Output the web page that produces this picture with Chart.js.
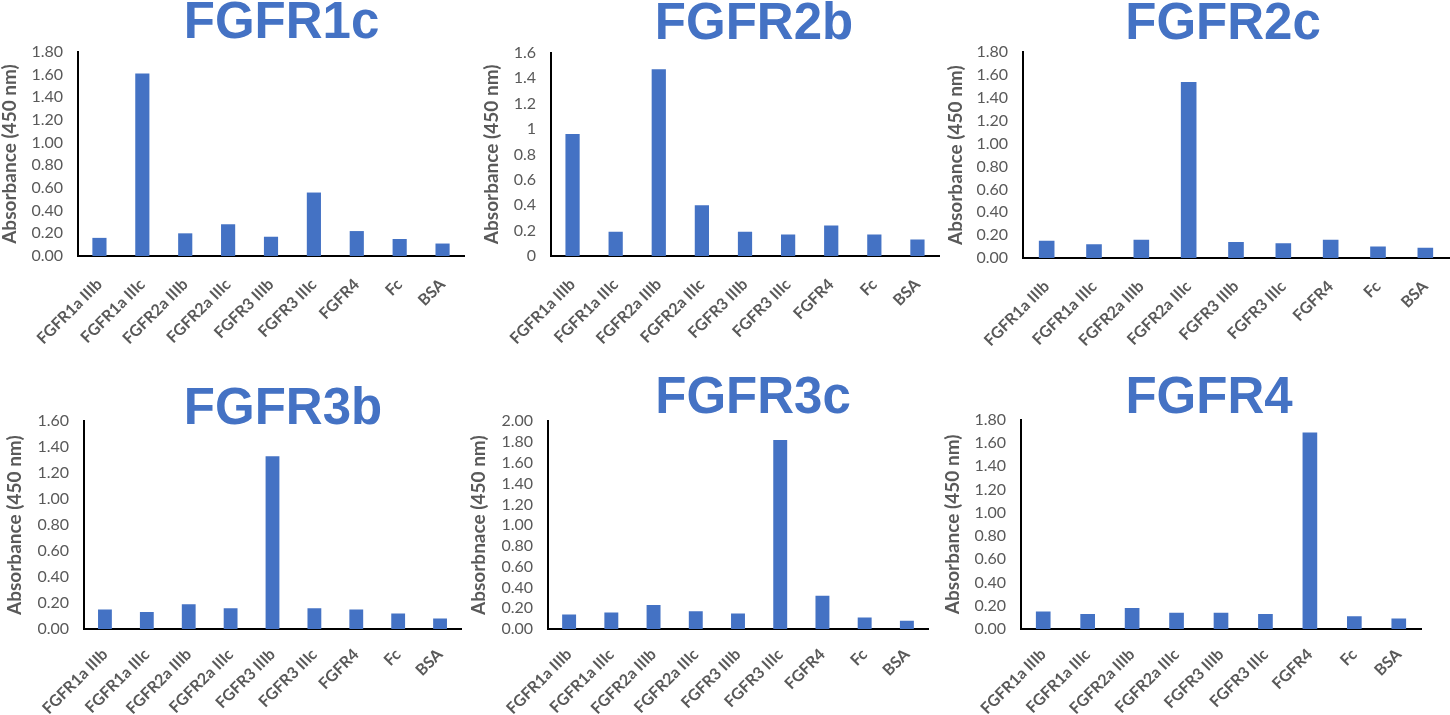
<!DOCTYPE html>
<html>
<head>
<meta charset="utf-8">
<script src="https://cdn.jsdelivr.net/npm/chart.js@4.4.1/dist/chart.umd.min.js"></script>
<style>
html, body { margin: 0; padding: 0; background: #fff; }
body { position: relative; width: 1450px; height: 715px; overflow: hidden; }
canvas { position: absolute; }
</style>
</head>
<body>
<script>
// categorias del eje x (iguales en los 6 paneles)
var categorias = ['FGFR1a IIIb', 'FGFR1a IIIc', 'FGFR2a IIIb', 'FGFR2a IIIc', 'FGFR3 IIIb', 'FGFR3 IIIc', 'FGFR4', 'Fc', 'BSA'];

var fgfr1c = [0.16, 1.61, 0.20, 0.28, 0.17, 0.56, 0.22, 0.15, 0.11];
var fgfr2b = [0.96, 0.19, 1.47, 0.40, 0.19, 0.17, 0.24, 0.17, 0.13];
var fgfr2c = [0.15, 0.12, 0.16, 1.54, 0.14, 0.13, 0.16, 0.10, 0.09];
var fgfr3b = [0.15, 0.13, 0.19, 0.16, 1.33, 0.16, 0.15, 0.12, 0.08];
var fgfr3c = [0.14, 0.16, 0.23, 0.17, 0.15, 1.82, 0.32, 0.11, 0.08];
var fgfr4 = [0.15, 0.13, 0.18, 0.14, 0.14, 0.13, 1.69, 0.11, 0.09];

var titulos = ['FGFR1c', 'FGFR2b', 'FGFR2c', 'FGFR3b', 'FGFR3c', 'FGFR4'];
var ejesY = ['Absorbance (450 nm)', 'Absorbance (450 nm)', 'Absorbance (450 nm)', 'Absorbance (450 nm)', 'Absorbnace (450 nm)', 'Absorbance (450 nm)'];
var maximos = [1.8, 1.6, 1.8, 1.6, 2.0, 1.8];
var decimales = [2, -1, 2, 2, 2, 2];   // -1 = formato general (0, 0.2, 1 ...)
var series = [fgfr1c, fgfr2b, fgfr2c, fgfr3b, fgfr3c, fgfr4];

// donde cae cada panel en la pagina
var cajas = [
    {left: -1,  titleX: 281.5, titleY: 20,    plotLeft: 78,   plotRight: 464,  plotTop: 52,    plotBottom: 256, sepX: 19},
    {left: 481, titleX: 754,   titleY: 20.5,  plotLeft: 551,  plotRight: 939,  plotTop: 52.7,  plotBottom: 256, sepX: 19},
    {left: 945, titleX: 1223,  titleY: 20.5,  plotLeft: 1023, plotRight: 1449, plotTop: 52.3,  plotBottom: 258, sepX: 19},
    {left: 4,   titleX: 283,   titleY: 405.8, plotLeft: 84,   plotRight: 461,  plotTop: 421.3, plotBottom: 629, sepX: 16},
    {left: 468, titleX: 753,   titleY: 395,   plotLeft: 548,  plotRight: 928,  plotTop: 421.3, plotBottom: 629, sepX: 16},
    {left: 942, titleX: 1209,  titleY: 395,   plotLeft: 1021, plotRight: 1421, plotTop: 419.7, plotBottom: 629, sepX: 16}
];

var azul = '#4472C4';
var gris = '#595959';

function graficar(i) {
    var c = cajas[i];
    var W = Math.round(2 * (c.titleX - c.left));
    var top = Math.floor(c.titleY - 30);
    var H = Math.round(c.plotBottom + 100 - top);
    var cv = document.createElement('canvas');
    cv.width = W;
    cv.height = H;
    cv.style.left = c.left + 'px';
    cv.style.top = top + 'px';
    document.body.appendChild(cv);

    // el texto del titulo sale ~4px alto con baseline middle
    var padTop = c.titleY + 4 - top - 25.5;
    var padBottom = c.plotTop - top - 51 - padTop;
    var margenDer = c.left + W - c.plotRight;
    var dec = decimales[i];

    new Chart(cv.getContext('2d'), {
        type: 'bar',
        data: {
            labels: categorias,
            datasets: [{
                data: series[i],
                backgroundColor: azul,
                barPercentage: 0.33,
                categoryPercentage: 1
            }]
        },
        options: {
            responsive: false,
            animation: false,
            devicePixelRatio: 1,
            layout: {padding: 0},
            plugins: {
                legend: {display: false},
                tooltip: {enabled: false},
                title: {
                    display: true,
                    text: titulos[i],
                    color: azul,
                    font: {family: '"Liberation Sans", Arial, sans-serif', size: 51, weight: 'bold', lineHeight: 1},
                    padding: {top: padTop, bottom: padBottom}
                }
            },
            scales: {
                x: {
                    grid: {display: false, drawTicks: false},
                    border: {display: true, color: '#000', width: 2},
                    ticks: {
                        color: gris,
                        font: {family: 'Lato', size: 16, weight: 'bold'},
                        minRotation: 45,
                        maxRotation: 45,
                        autoSkip: false,
                        padding: c.sepX
                    },
                    afterFit: function (s) { s.height = H - (c.plotBottom - top); }
                },
                y: {
                    min: 0,
                    max: maximos[i],
                    grid: {display: false, drawTicks: false},
                    border: {display: true, color: '#000', width: 2},
                    ticks: {
                        stepSize: 0.2,
                        autoSkip: false,
                        color: gris,
                        font: {family: 'Lato', size: 16},
                        padding: 15,
                        callback: function (v) {
                            return dec < 0 ? String(Math.round(v * 10) / 10) : v.toFixed(dec);
                        }
                    },
                    title: {
                        display: true,
                        text: ejesY[i],
                        color: gris,
                        font: {family: 'Lato', size: 19, weight: 'bold', lineHeight: 1.1},
                        padding: 0
                    },
                    afterFit: function (s) { s.width = c.plotLeft - c.left; }
                },
                // eje vacio a la derecha: solo reserva el margen, asi el titulo queda centrado donde va
                margen: {
                    type: 'linear',
                    position: 'right',
                    grid: {display: false},
                    border: {display: false},
                    ticks: {display: false},
                    afterFit: function (s) { s.width = margenDer; }
                }
            }
        }
    });
}

for (var i = 0; i < series.length; i++) {
    graficar(i);
}
</script>
</body>
</html>
